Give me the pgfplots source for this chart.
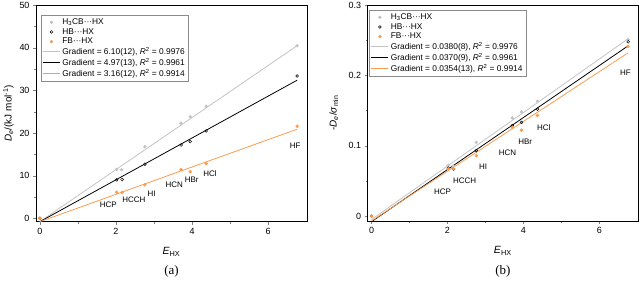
\documentclass[border=0pt]{standalone}
\usepackage{pgfplots}
\pgfplotsset{compat=1.18}
\usepackage{fontspec}
\setmainfont{Liberation Sans}
\newfontfamily\seriffont{Liberation Serif}
\definecolor{cgray}{RGB}{195,195,195}
\definecolor{corange}{RGB}{250,155,80}
\tikzset{lab/.style={font=\fontsize{8}{9}\selectfont}}
\pgfplotsset{
  myax/.style={
    scale only axis, width=271bp, height=216.5bp,
    xmin=-0.1, xmax=7.02,
    xtick={0,2,4,6}, minor xtick={1,3,5},
    tick align=outside, xtick pos=left, ytick pos=left,
    major tick length=3bp, minor tick length=2bp,
    /pgf/number format/assume math mode=true,
    tick label style={font=\fontsize{9}{10}\selectfont},
    axis line style={line width=0.6pt},
    legend cell align=left,
    legend style={font=\fontsize{8.4}{9.6}\selectfont, anchor=north west,
      draw=black!45, inner sep=1.5pt, row sep=-1.6pt},
  },
  gpts/.style={only marks, mark=*, mark size=1.5pt, color=cgray},
  bpts/.style={only marks, mark=o, mark size=1.4pt, mark options={line width=0.5pt, fill=white}, color=black},
  opts/.style={only marks, mark=*, mark size=1.5pt, color=corange},
}
\begin{document}
\begin{tikzpicture}[x=1bp,y=1bp]
\useasboundingbox (0,0) rectangle (640,281);
% ---------------- panel (a)
\begin{axis}[myax, name=A, at={(36bp,59.3bp)}, anchor=south west,
  ymin=-0.8, ymax=50, ytick={0,10,20,30,40,50}, minor ytick={5,15,25,35,45},
  legend style={at={(axis description cs:0.018,0.955)}},
]
\addplot[gpts] coordinates {(0,0) (2.02,11.5) (2.15,11.4) (2.76,16.8) (3.71,22.3) (3.95,23.8) (4.37,26.3) (6.76,40.5)};
\addlegendentry{H\textsubscript{3}CB···HX}
\addplot[bpts] coordinates {(0,0) (2.02,9.0) (2.16,9.1) (2.76,12.7) (3.71,17.2) (3.95,18.0) (4.37,20.5) (6.76,33.4)};
\addlegendentry{HB···HX}
\addplot[opts] coordinates {(0,0) (2.02,6.1) (2.16,6.1) (2.76,7.85) (3.71,11.4) (3.95,10.9) (4.37,12.8) (6.76,21.6)};
\addlegendentry{FB···HX}
\addplot[cgray, line width=0.8pt, no marks] coordinates {(0,-0.8) (6.76,40.5)};
\addlegendentry{Gradient = 6.10(12), \textit{R}\textsuperscript{2} = 0.9976}
\addplot[black, line width=0.8pt, no marks] coordinates {(0,-0.8) (6.76,32.4)};
\addlegendentry{Gradient = 4.97(13), \textit{R}\textsuperscript{2} = 0.9961}
\addplot[corange, line width=0.8pt, no marks] coordinates {(0,-0.8) (6.76,20.9)};
\addlegendentry{Gradient = 3.16(12), \textit{R}\textsuperscript{2} = 0.9914}
\node[lab] at (axis cs:1.8,3.1) {HCP};
\node[lab] at (axis cs:2.47,4.45) {HCCH};
\node[lab] at (axis cs:2.94,5.7) {HI};
\node[lab] at (axis cs:3.53,7.8) {HCN};
\node[lab] at (axis cs:3.99,9.0) {HBr};
\node[lab] at (axis cs:4.47,10.5) {HCl};
\node[lab] at (axis cs:6.71,17.0) {HF};
\end{axis}
\node[rotate=90, font=\fontsize{10}{12}\selectfont] at ([xshift=-27.5bp]A.west) {\textit{D}\textsubscript{\textit{e}}/(kJ mol\textsuperscript{-1})};
\node[font=\fontsize{10.5}{12}\selectfont] at ([yshift=-30bp]A.south) {\textit{E}\textsubscript{HX}};
\node[font=\seriffont\fontsize{13}{15}\selectfont] at ([yshift=-50bp]A.south) {(a)};
% ---------------- panel (b)
\begin{axis}[myax, name=B, at={(367.7bp,60bp)}, anchor=south west, width=270.3bp, height=216bp,
  ymin=-0.0071, ymax=0.3, ytick={0,0.1,0.2,0.3}, minor ytick={0.05,0.15,0.25},
  yticklabel style={/pgf/number format/fixed},
  legend style={at={(axis description cs:0.006,0.977)}},
]
\addplot[gpts] coordinates {(0,0) (2.02,0.072) (2.15,0.071) (2.76,0.1047) (3.71,0.1395) (3.95,0.148) (4.37,0.163) (6.76,0.251)};
\addlegendentry{H\textsubscript{3}CB···HX}
\addplot[bpts] coordinates {(0,0) (2.02,0.068) (2.16,0.0667) (2.76,0.093) (3.71,0.1286) (3.95,0.133) (4.37,0.152) (6.76,0.2476)};
\addlegendentry{HB···HX}
\addplot[opts] coordinates {(0,0) (2.02,0.067) (2.16,0.067) (2.76,0.0857) (3.71,0.126) (3.95,0.122) (4.37,0.143) (6.76,0.241)};
\addlegendentry{FB···HX}
\addplot[cgray, line width=0.8pt, no marks] coordinates {(0,-0.005) (6.76,0.252)};
\addlegendentry{Gradient = 0.0380(8), \textit{R}\textsuperscript{2} = 0.9976}
\addplot[black, line width=0.8pt, no marks] coordinates {(0,-0.008) (6.76,0.242)};
\addlegendentry{Gradient = 0.0370(9), \textit{R}\textsuperscript{2} = 0.9961}
\addplot[corange, line width=0.8pt, no marks] coordinates {(0,-0.007) (6.76,0.232)};
\addlegendentry{Gradient = 0.0354(13), \textit{R}\textsuperscript{2} = 0.9914}
\node[lab] at (axis cs:1.87,0.034) {HCP};
\node[lab] at (axis cs:2.45,0.05) {HCCH};
\node[lab] at (axis cs:2.94,0.070) {HI};
\node[lab] at (axis cs:3.58,0.0896) {HCN};
\node[lab] at (axis cs:4.05,0.106) {HBr};
\node[lab] at (axis cs:4.54,0.125) {HCl};
\node[lab] at (axis cs:6.69,0.204) {HF};
\end{axis}
\node[rotate=90, font=\fontsize{10}{12}\selectfont] at ([xshift=-34bp]B.west) {-\textit{D}\textsubscript{\textit{e}}/\textit{σ}\textsubscript{min}};
\node[font=\fontsize{10.5}{12}\selectfont] at ([yshift=-30bp]B.south) {\textit{E}\textsubscript{HX}};
\node[font=\seriffont\fontsize{13}{15}\selectfont] at ([yshift=-50bp]B.south) {(b)};
\end{tikzpicture}
\end{document}
